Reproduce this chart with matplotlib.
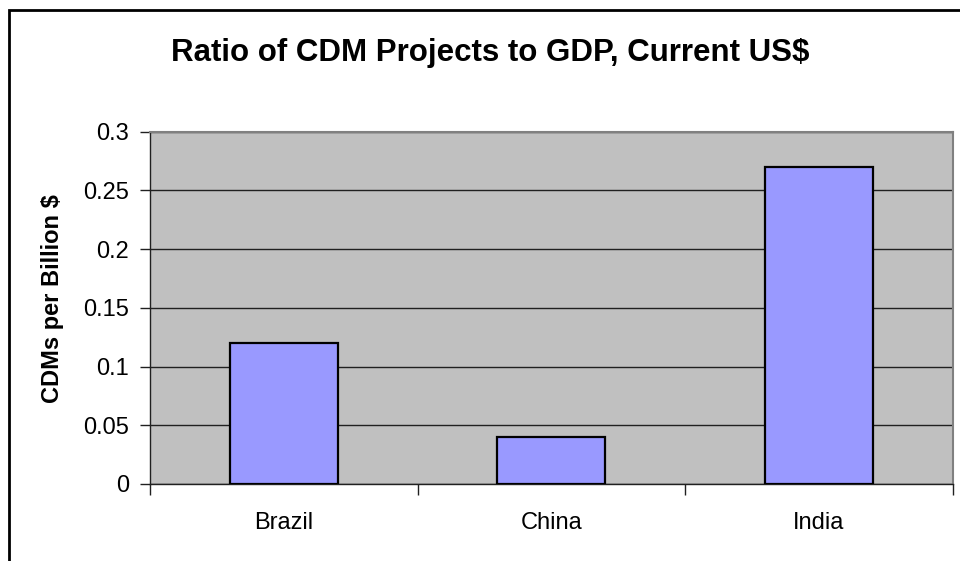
import matplotlib.pyplot as plt
from matplotlib.patches import Rectangle
from matplotlib.ticker import FixedLocator

plt.rcParams['font.family'] = ['Liberation Sans', 'DejaVu Sans']

# 数据
countries = ['Brazil', 'China', 'India']
cdm_per_gdp = [0.12, 0.04, 0.27]
yticks = [0, 0.05, 0.1, 0.15, 0.2, 0.25, 0.3]
ytick_labels = ['0', '0.05', '0.1', '0.15', '0.2', '0.25', '0.3']

fig = plt.figure(figsize=(9.6, 5.61), dpi=100)
ax = fig.add_axes([150 / 960, 1 - 484 / 561, 802.5 / 960, 352.5 / 561])

# 外框
fig.patches.append(Rectangle((8.5 / 960, -0.1), 1.2, 1 - 10 / 561 + 0.1,
                             transform=fig.transFigure, fill=False,
                             edgecolor='black', linewidth=2, zorder=0))

ax.set_facecolor('#C0C0C0')
x = list(range(len(countries)))
ax.bar(x, cdm_per_gdp, width=0.404, color='#9999FF', edgecolor='black',
       linewidth=1.6, zorder=3)

ax.set_xlim(-0.5, len(countries) - 0.5)
ax.set_ylim(0, 0.3)
ax.set_yticks(yticks)
ax.set_yticklabels(ytick_labels, fontsize=17)
ax.yaxis.grid(True, color='#202020', linewidth=1)
ax.set_axisbelow(True)

# 类别标签居中，刻度线在类别分界处
ax.set_xticks(x)
ax.set_xticklabels(countries, fontsize=17)
ax.tick_params(axis='x', which='major', length=0, pad=20)
ax.xaxis.set_minor_locator(FixedLocator([i - 0.5 for i in range(len(countries) + 1)]))
ax.tick_params(axis='x', which='minor', length=8, width=1, color='#202020')
ax.tick_params(axis='y', length=7, width=1, color='#202020', pad=8)

for side in ['top', 'right']:
    ax.spines[side].set_color('#808080')
    ax.spines[side].set_linewidth(1.5)
for side in ['left', 'bottom']:
    ax.spines[side].set_color('#202020')
    ax.spines[side].set_linewidth(1)

fig.text(490 / 960, 1 - 53 / 561, 'Ratio of CDM Projects to GDP, Current US$',
         ha='center', va='center', fontsize=22.5, fontweight='bold')
fig.text(53 / 960, 1 - 299 / 561, 'CDMs per Billion $', rotation=90,
         ha='center', va='center', fontsize=17, fontweight='bold')

fig.savefig('out.png', dpi=100, facecolor='white')
